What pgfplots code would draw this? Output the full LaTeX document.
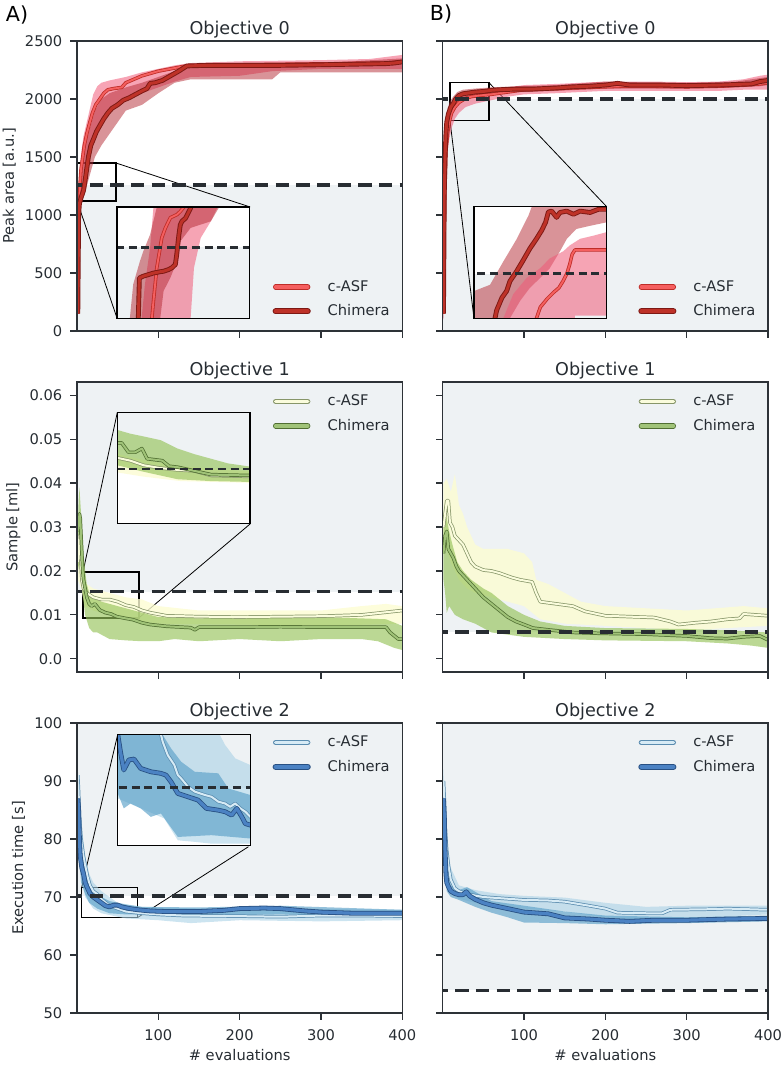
\documentclass[border=0pt]{standalone}
\usepackage{fontspec}
\setmainfont{DejaVu Sans}
\usepackage{pgfplots}
\usepackage{pgfplotstable}
\pgfplotsset{compat=1.18}

\definecolor{textc}{RGB}{38,44,50}
\definecolor{framec}{RGB}{45,50,55}
\definecolor{bgc}{RGB}{238,242,244}
\definecolor{dashc}{RGB}{40,45,50}
% red
\definecolor{rco}{RGB}{190,45,40}
\definecolor{rci}{RGB}{245,95,95}
\definecolor{rho}{RGB}{125,25,20}
\definecolor{rhi}{RGB}{190,50,40}
\definecolor{rcb}{RGB}{240,90,120}
\definecolor{rhb}{RGB}{180,40,50}
% green
\definecolor{gco}{RGB}{135,150,105}
\definecolor{gci}{RGB}{250,252,220}
\definecolor{gho}{RGB}{80,110,50}
\definecolor{ghi}{RGB}{160,195,120}
\definecolor{gcb}{RGB}{252,252,210}
\definecolor{ghb}{RGB}{150,195,90}
% blue
\definecolor{bco}{RGB}{90,140,175}
\definecolor{bci}{RGB}{215,235,245}
\definecolor{bho}{RGB}{40,80,130}
\definecolor{bhi}{RGB}{75,130,195}
\definecolor{bcb}{RGB}{170,210,230}
\definecolor{bhb}{RGB}{90,160,200}

\pgfplotsset{
  mainax/.style={
    scale only axis, width=244pt, height=217.5pt, axis on top,
    xmin=0, xmax=400, xtick={100,200,300,400},
    axis line style={framec, line width=0.9pt},
    tick align=outside, tick pos=left, major tick length=5pt,
    tick style={framec, line width=0.9pt},
    tick label style={font=\fontsize{11}{13}\selectfont, text=textc},
    xticklabel style={yshift=-4pt},
    yticklabel style={xshift=-2.5pt},
    label style={font=\fontsize{11}{13}\selectfont, text=textc},
    xlabel style={yshift=0.5pt},
    title style={font=\fontsize{13.2}{15}\selectfont, text=textc, yshift=-7.5pt},
    /pgf/number format/assume math mode=true,
    /pgf/number format/1000 sep={},
    legend style={draw=none, fill=none, font=\fontsize{11}{13}\selectfont, text=textc, row sep=4.5pt, inner sep=0pt},
    legend cell align=left,
  },
  inax/.style={scale only axis, width=99.5pt, height=83.7pt, xtick=\empty, ytick=\empty, axis on top,
    axis line style={black, line width=0.8pt}, axis background/.style={fill=white}},
  bgfill/.style={fill=bgc, draw=none, forget plot},
  zbox/.style={black, line width=1.1pt, forget plot},
  conn/.style={black, line width=0.6pt, forget plot},
  thr/.style={dashc, line width=2.6pt, dash pattern=on 10pt off 5.5pt, forget plot},
  thri/.style={dashc, line width=2.2pt, dash pattern=on 6pt off 3.5pt, forget plot},
  band/.style 2 args={fill=#1, fill opacity=#2, draw=none, forget plot},
  oln/.style 2 args={draw=#1, line width=#2, line join=round, forget plot},
  iln/.style 2 args={draw=#1, line width=#2, line join=round},
  lgd/.style n args={4}{legend image code/.code={
    \draw[line width=#3, line cap=round, #1] (1pt,0pt) -- (25pt,0pt);
    \draw[line width=#4, line cap=round, #2] (1pt,0pt) -- (25pt,0pt);
    \path[draw=none, fill=none] (0pt,-3pt) rectangle (38pt,3pt);}},
}

% ---------- Objective 0 ----------
\pgfplotstableread{
x y
1 150
2 950
3 1150
4 1300
5 1400
7 1500
9 1600
12 1700
15 1780
19 1880
23 1950
28 2000
33 2050
38 2080
45 2090
55 2100
60 2140
70 2170
80 2200
90 2220
100 2240
115 2260
130 2280
150 2290
200 2295
260 2300
330 2305
380 2310
395 2320
400 2320
}\tAzc
\pgfplotstableread{
x y
1 150
2 1000
3 1100
5 1150
8 1210
10 1300
12 1400
14 1500
17 1600
20 1650
24 1720
28 1770
33 1830
38 1880
43 1920
50 1950
57 1990
64 2010
72 2040
80 2070
86 2090
90 2135
96 2140
105 2160
115 2200
125 2240
135 2285
160 2290
250 2290
300 2295
340 2300
380 2305
390 2310
400 2320
}\tAzh
\pgfplotstableread{
x y
1 150
2 900
3 1300
4 1550
6 1700
8 1800
11 1880
15 1930
20 1970
28 2005
35 2020
45 2030
60 2040
80 2060
100 2080
140 2090
180 2100
220 2110
260 2110
300 2105
340 2110
370 2120
390 2130
400 2140
}\tBzc
\pgfplotstableread{
x y
1 150
2 1200
3 1500
4 1700
5 1800
7 1870
10 1930
13 1960
16 2000
20 2030
25 2045
30 2050
40 2060
50 2065
60 2075
70 2080
90 2085
110 2085
140 2095
160 2105
180 2110
200 2120
215 2135
230 2120
270 2120
300 2115
340 2120
360 2125
380 2130
390 2150
400 2160
}\tBzh
% insets objective 0
\pgfplotstableread{
x y
12.6 1080
12.6 1100
13.2 1140
14.4 1214
15.4 1251
16.2 1281
17.5 1303
19.3 1326
21.7 1333
22.9 1340
24.2 1350
25 1370
}\iAzc
\pgfplotstableread{
x y
7.7 1080
7.7 1100
8.1 1191
9.5 1195
13.2 1202
15.6 1205
16.8 1206
18.7 1210
19.9 1214
21.1 1221
21.6 1243
22.4 1288
22.9 1310
23.5 1318
24.8 1325
26.6 1347
27.2 1370
}\iAzh
\pgfplotstableread{
x y
30.6 1880
30.6 1900
32 1925
34.4 1943
36.8 1958
38.7 1968
40.2 1983
41.6 2000
42.6 2020
43.5 2043
44.5 2053
58 2053
}\iBzc
\pgfplotstableread{
x y
15.6 1880
15.6 1900
16.2 1918
18.1 1946
19.8 1961
21 1983
23.4 2005
25.8 2030
28.2 2056
30.6 2078
32.5 2097
33.9 2115
34.9 2138
36.1 2140
37.9 2126
39.1 2137
41.5 2140
44 2133
46.4 2140
50 2137
53 2144
58 2144
}\iBzh

% ---------- Objective 1 ----------
\pgfplotstableread{
x y
1 0.022
2 0.025
3 0.028
4 0.025
5 0.021
6 0.018
8 0.016
12 0.015
20 0.014
30 0.0135
40 0.0135
50 0.013
60 0.0122
70 0.0118
80 0.011
90 0.0105
110 0.0098
150 0.0096
200 0.0095
250 0.0096
300 0.0097
350 0.0100
370 0.0104
390 0.0108
400 0.0110
}\tAoc
\pgfplotstableread{
x y
1 0.029
2 0.031
3 0.033
4 0.032
5 0.028
6 0.024
7 0.020
8 0.018
10 0.016
12 0.014
15 0.0125
18 0.012
22 0.0125
28 0.0111
35 0.0105
42 0.0102
49 0.0096
60 0.0092
69 0.0089
80 0.0082
90 0.0078
110 0.0074
140 0.0071
145 0.0066
150 0.0072
200 0.0072
250 0.0073
300 0.0072
380 0.0072
385 0.0060
395 0.0045
400 0.0045
}\tAoh
\pgfplotstableread{
x y
1 0.030
3 0.033
5 0.036
7 0.036
9 0.031
12 0.030
15 0.028
20 0.027
25 0.026
30 0.024
35 0.022
40 0.021
50 0.0202
60 0.020
70 0.0195
85 0.0185
95 0.018
110 0.0175
115 0.015
120 0.013
140 0.0125
160 0.012
175 0.0108
200 0.0098
230 0.0096
260 0.0094
280 0.0085
290 0.0078
310 0.0082
330 0.0085
350 0.009
365 0.0092
370 0.0102
400 0.0098
}\tBoc
\pgfplotstableread{
x y
1 0.024
3 0.028
5 0.029
7 0.025
10 0.024
13 0.023
17 0.021
20 0.020
25 0.019
30 0.018
40 0.016
50 0.014
60 0.0125
70 0.011
80 0.0095
90 0.0085
100 0.0078
111 0.007
130 0.0066
160 0.006
193 0.0058
250 0.0056
300 0.0052
330 0.0047
350 0.0046
370 0.005
390 0.0052
400 0.0043
}\tBoh
\pgfplotstableread{
x y
5 0.0165
7 0.0165
13.7 0.0162
20.7 0.0157
29.5 0.0154
38.3 0.0152
47 0.0151
55.8 0.0146
76 0.0145
78 0.0145
}\iAoc
\pgfplotstableread{
x y
5 0.0181
9.3 0.0181
12.8 0.0171
16.3 0.0171
19.8 0.0175
22.5 0.0164
30.4 0.0162
33.9 0.0156
38.3 0.0155
47 0.0151
55.8 0.0147
76 0.0146
78 0.0146
}\iAoh

% ---------- Objective 2 ----------
\pgfplotstableread{
x y
1 91
2 88
3 84
5 80
8 77
10 75.5
13 73.5
16 72
20 71
25 70.5
30 69.6
40 68.5
50 68
60 67.5
80 67.2
100 67
130 66.8
200 66.7
250 66.6
300 66.8
350 66.8
400 66.7
}\tAtc
\pgfplotstableread{
x y
1 87
2 85
3 80
4 77
5 76
6 75
8 74
10 72.5
13 71.5
16 70.6
20 70
25 69.5
30 69
35 68.5
40 68.3
45 68.6
50 68.6
55 68.3
65 68
75 67.8
90 67.6
110 67.5
150 67.5
180 67.7
200 68
230 68.1
250 68
280 67.6
300 67.4
340 67.2
400 67.2
}\tAth
\pgfplotstableread{
x y
1 90
2 87
3 82
5 78
7 75.5
10 73
15 71.5
20 71
30 70.5
50 70
70 69.8
100 69.5
130 69.4
150 69.2
180 68.5
200 68
215 67.3
250 67.2
270 67.2
280 67.8
330 67.9
350 68
400 67.8
}\tBtc
\pgfplotstableread{
x y
1 87
2 84
3 78
4 74
5 72.5
7 71.8
10 71
15 70.6
20 70.4
25 70.4
29 70.9
33 70.2
40 69.6
50 69
60 68.6
70 68.3
80 68
90 67.7
100 67.4
110 67.3
130 67.1
150 66.4
180 66.2
200 66
230 65.8
260 66
300 66
350 66.2
400 66.3
}\tBth
\pgfplotstableread{
x y
27 73
28 72.6
28.9 72.27
31.5 71.67
34.9 71.22
36.7 70.77
38.4 70.62
41.9 70.25
45.4 70.03
50.6 69.88
54 69.8
57.5 69.58
61 69.5
63.6 69.35
66.2 69.5
68.8 69.28
71.4 69.13
74 68.9
76 68.8
}\iAtc
\pgfplotstableread{
x y
5 72.8
5.8 72.6
7.19 71.82
8.92 71.0
11.53 71.45
14.13 71.49
17.6 71.07
22.8 70.92
28 70.85
30.6 70.77
33.2 70.47
36.7 69.95
41.9 69.8
47.1 69.65
51.4 69.28
57.5 69.2
61 69.13
64.4 68.98
67 69.28
69.6 68.9
71.4 68.6
74 68.53
76 68.5
}\iAth

\begin{document}
\begin{tikzpicture}
\path[use as bounding box] (0pt,0pt) rectangle (588pt,-799.5pt);
\node[font=\fontsize{15.5}{17}\selectfont, text=black] at (12.75pt,-11.25pt) {A)};
\node[font=\fontsize{15.5}{17}\selectfont, text=black] at (330.75pt,-10.5pt) {B)};

% ===== A0 =====
\begin{axis}[mainax, at={(57.75pt,-30.75pt)}, anchor=north west,
  ymin=0, ymax=2500, ytick={0,500,...,2500}, xticklabels={},
  title={Objective 0}, ylabel={Peak area [a.u.]},
  legend style={at={(0.97,0.035)}, anchor=south east}]
\addplot[bgfill] coordinates {(-10,-100)(410,-100)(410,1260)(-10,1260)} -- cycle;
\addplot[zbox] coordinates {(0,1121)(48,1121)(48,1448)(0,1448)} -- cycle;
\addplot[conn] coordinates {(48,1448)(212.9,1069)};
\addplot[conn] coordinates {(0,1121)(49.2,112)};
\addplot[band={rcb}{0.55}] coordinates {(1,250)(2,1100)(4,1420)(6,1580)(8,1680)(12,1800)(16,1920)(20,2040)(25,2110)(30,2140)(40,2160)(60,2190)(80,2230)(100,2260)(120,2290)(140,2310)(200,2325)(300,2335)(360,2345)(400,2380)(400,2260)(300,2260)(240,2240)(200,2200)(140,2190)(120,2150)(100,2100)(80,2050)(60,2000)(40,1930)(30,1820)(25,1730)(20,1640)(16,1560)(12,1460)(8,1350)(6,1250)(4,1050)(2,750)(1,100)} -- cycle;
\addplot[band={rhb}{0.5}] coordinates {(1,250)(2,1150)(4,1350)(6,1500)(10,1600)(14,1700)(18,1800)(22,1900)(30,2000)(40,2050)(60,2100)(80,2140)(100,2190)(120,2240)(140,2290)(200,2300)(300,2310)(400,2350)(400,2230)(250,2230)(240,2170)(140,2170)(120,2140)(100,2050)(80,1950)(60,1900)(50,1800)(40,1700)(30,1600)(22,1500)(18,1400)(14,1300)(10,1200)(6,1100)(4,1050)(2,900)(1,100)} -- cycle;
\addplot[oln={rco}{2.6pt}] table {\tAzc};
\addplot[iln={rci}{1.4pt}, lgd={rco}{rci}{4pt}{2.6pt}] table {\tAzc};
\addlegendentry{c-ASF}
\addplot[oln={rho}{3.6pt}] table {\tAzh};
\addplot[iln={rhi}{2.2pt}, lgd={rho}{rhi}{4.6pt}{3pt}] table {\tAzh};
\addlegendentry{Chimera}
\addplot[thr] coordinates {(-10,1260)(410,1260)};
\end{axis}
\begin{axis}[inax, name=inA0, at={(87.75pt,-155.25pt)}, anchor=north west,
  xmin=0, xmax=48, ymin=1100, ymax=1350]
\addplot[bgfill] coordinates {(-5,1000)(60,1000)(60,1260)(-5,1260)} -- cycle;
\addplot[band={rcb}{0.55}] coordinates {(8.9,1080)(8.9,1100)(10.1,1176.7)(11.97,1258.5)(13.19,1350)(13.4,1370)(36.4,1370)(36.4,1350)(33.95,1318)(30.29,1280.8)(27.85,1213.8)(26.63,1100)(26.63,1080)} -- cycle;
\addplot[band={rhb}{0.5}] coordinates {(4.64,1080)(4.64,1100)(5.86,1176.7)(8.3,1228.7)(9.53,1251)(11.97,1288.2)(14.41,1350)(14.6,1370)(37.2,1370)(37,1350)(33.95,1318)(30.29,1310.6)(26.63,1303.1)(22.96,1273.4)(21.74,1228.7)(19.3,1191.5)(16.85,1161.8)(15.63,1100)(15.63,1080)} -- cycle;
\addplot[oln={rco}{2.6pt}] table {\iAzc};
\addplot[iln={rci}{1.4pt}] table {\iAzc};
\addplot[oln={rho}{3.6pt}] table {\iAzh};
\addplot[iln={rhi}{2.2pt}] table {\iAzh};
\addplot[thri] coordinates {(-5,1260)(60,1260)};
\end{axis}
\draw[black, line width=0.8pt] (inA0.south west) rectangle (inA0.north east);

% ===== B0 =====
\begin{axis}[mainax, at={(332pt,-30.75pt)}, anchor=north west,
  ymin=0, ymax=2500, ytick={0,500,...,2500}, xticklabels={}, yticklabels={},
  title={Objective 0},
  legend style={at={(0.97,0.035)}, anchor=south east}]
\addplot[bgfill] coordinates {(-10,-100)(410,-100)(410,2000)(-10,2000)} -- cycle;
\addplot[zbox] coordinates {(9,1813)(56.9,1813)(56.9,2141)(9,2141)} -- cycle;
\addplot[conn] coordinates {(56.9,2141)(201.6,1072)};
\addplot[conn] coordinates {(9,1813)(38.5,109)};
\addplot[band={rcb}{0.55}] coordinates {(1,250)(2,1200)(3,1550)(4,1750)(6,1850)(8,1920)(11,1970)(15,2010)(20,2040)(28,2060)(40,2080)(60,2090)(80,2100)(100,2120)(140,2130)(200,2150)(260,2150)(300,2145)(340,2150)(370,2170)(390,2200)(400,2210)(400,2080)(390,2080)(370,2080)(340,2070)(260,2070)(200,2070)(140,2050)(100,2040)(80,2020)(60,1990)(40,1960)(28,1930)(20,1880)(15,1830)(11,1750)(8,1650)(6,1550)(4,1300)(3,1000)(2,600)(1,100)} -- cycle;
\addplot[band={rhb}{0.5}] coordinates {(1,250)(2,1400)(3,1700)(4,1850)(6,1920)(9,1980)(13,2020)(18,2060)(25,2080)(40,2090)(60,2100)(90,2110)(140,2120)(200,2150)(230,2145)(300,2140)(360,2150)(390,2180)(400,2190)(400,2120)(390,2110)(360,2100)(300,2090)(230,2090)(200,2090)(140,2070)(90,2060)(60,2050)(40,2030)(25,2000)(18,1950)(13,1900)(9,1850)(6,1750)(4,1500)(3,1300)(2,1000)(1,100)} -- cycle;
\addplot[oln={rco}{2.6pt}] table {\tBzc};
\addplot[iln={rci}{1.4pt}, lgd={rco}{rci}{4pt}{2.6pt}] table {\tBzc};
\addlegendentry{c-ASF}
\addplot[oln={rho}{3.6pt}] table {\tBzh};
\addplot[iln={rhi}{2.2pt}, lgd={rho}{rhi}{4.6pt}{3pt}] table {\tBzh};
\addlegendentry{Chimera}
\addplot[thr] coordinates {(-10,2000)(410,2000)};
\end{axis}
\begin{axis}[inax, name=inB0, at={(355.5pt,-155pt)}, anchor=north west,
  xmin=8, xmax=56, ymin=1900, ymax=2150]
\addplot[bgfill] coordinates {(0,1800)(60,1800)(60,2000)(0,2000)} -- cycle;
\addplot[band={rhb}{0.5}] coordinates {(6,1961)(8,1961)(13.8,1975)(18.6,2027)(23.4,2077)(27.7,2130)(28.9,2150)(30,2200)(58,2200)(58,2115)(56,2115)(49.9,2107)(45,2100)(41.6,2078)(39.1,2050)(35.4,2012)(31.9,1990)(28.2,1968)(24.7,1939)(21,1900)(19,1850)(6,1850)} -- cycle;
\addplot[band={rcb}{0.55}] coordinates {(6,1850)(18,1850)(18.6,1900)(22.2,1954)(27,1990)(31.9,2012)(35.4,2034)(40.3,2050)(42.6,2063)(46.4,2078)(51.2,2085)(56,2093)(58,2093)(58,1906)(44.5,1906)(44,1850)} -- cycle;
\addplot[oln={rco}{2.6pt}] table {\iBzc};
\addplot[iln={rci}{1.4pt}] table {\iBzc};
\addplot[oln={rho}{3.6pt}] table {\iBzh};
\addplot[iln={rhi}{2.2pt}] table {\iBzh};
\addplot[thri] coordinates {(0,2000)(60,2000)};
\end{axis}
\draw[black, line width=0.8pt] (inB0.south west) rectangle (inB0.north east);

% ===== A1 =====
\begin{axis}[mainax, at={(57.75pt,-286.5pt)}, anchor=north west,
  ymin=-0.003, ymax=0.063, ytick={0,0.01,...,0.06}, scaled y ticks=false,
  yticklabels={0.0,0.01,0.02,0.03,0.04,0.05,0.06}, xticklabels={},
  title={Objective 1}, ylabel={Sample [ml]},
  legend style={at={(0.97,0.965)}, anchor=north east}]
\addplot[bgfill] coordinates {(-10,0.0153)(410,0.0153)(410,0.07)(-10,0.07)} -- cycle;
\addplot[zbox] coordinates {(7.4,0.0093)(76,0.0093)(76,0.0198)(7.4,0.0198)} -- cycle;
\addplot[conn] coordinates {(7.4,0.0198)(49.6,0.0561)};
\addplot[conn] coordinates {(76,0.0093)(212.9,0.0307)};
\addplot[band={gcb}{0.8}] coordinates {(1,0.025)(3,0.030)(5,0.025)(8,0.020)(12,0.017)(20,0.016)(40,0.015)(60,0.014)(80,0.0135)(100,0.012)(150,0.011)(200,0.011)(300,0.011)(350,0.012)(380,0.0125)(400,0.012)(400,0.008)(300,0.0075)(200,0.0078)(100,0.008)(60,0.009)(40,0.010)(20,0.011)(10,0.012)(5,0.016)(1,0.018)} -- cycle;
\addplot[band={ghb}{0.65}] coordinates {(1,0.030)(2,0.036)(3,0.039)(4,0.036)(6,0.030)(8,0.024)(10,0.020)(12,0.017)(15,0.015)(20,0.014)(30,0.013)(50,0.012)(80,0.0105)(100,0.0095)(150,0.0092)(200,0.0095)(250,0.0095)(300,0.0095)(350,0.0092)(380,0.009)(400,0.0075)(400,0.002)(390,0.0025)(370,0.004)(350,0.0045)(300,0.0045)(250,0.004)(200,0.0045)(150,0.004)(120,0.0045)(100,0.004)(80,0.004)(60,0.0042)(40,0.0045)(30,0.0055)(25,0.006)(20,0.006)(15,0.007)(10,0.010)(8,0.013)(5,0.018)(3,0.022)(1,0.020)} -- cycle;
\addplot[oln={gco}{2.6pt}] table {\tAoc};
\addplot[iln={gci}{1.5pt}, lgd={gco}{gci}{4pt}{2.8pt}] table {\tAoc};
\addlegendentry{c-ASF}
\addplot[oln={gho}{2.6pt}] table {\tAoh};
\addplot[iln={ghi}{1.5pt}, lgd={gho}{ghi}{4pt}{2.8pt}] table {\tAoh};
\addlegendentry{Chimera}
\addplot[thr] coordinates {(-10,0.0153)(410,0.0153)};
\end{axis}
\begin{axis}[inax, name=inA1, at={(88pt,-309.2pt)}, anchor=north west,
  xmin=7, xmax=76, ymin=0.0094, ymax=0.0214, scaled y ticks=false]
\addplot[bgfill] coordinates {(0,0.0153)(80,0.0153)(80,0.025)(0,0.025)} -- cycle;
\addplot[band={gcb}{0.8}] coordinates {(5,0.0170)(20,0.0163)(40,0.0156)(78,0.0150)(78,0.0138)(40,0.0140)(20,0.0145)(5,0.0150)} -- cycle;
\addplot[band={ghb}{0.65}] coordinates {(5,0.0195)(7,0.0195)(13.7,0.0191)(20.7,0.0188)(29.5,0.0184)(38.3,0.0175)(47,0.0169)(55.8,0.0164)(64.6,0.0159)(78,0.0155)(78,0.0139)(55.8,0.0140)(38.3,0.0142)(20.7,0.0150)(7,0.0157)(5,0.0157)} -- cycle;
\addplot[oln={gco}{2.6pt}] table {\iAoc};
\addplot[iln={gci}{1.5pt}] table {\iAoc};
\addplot[oln={gho}{2.6pt}] table {\iAoh};
\addplot[iln={ghi}{1.5pt}] table {\iAoh};
\addplot[thri] coordinates {(0,0.0153)(80,0.0153)};
\end{axis}
\draw[black, line width=0.8pt] (inA1.south west) rectangle (inA1.north east);

% ===== B1 =====
\begin{axis}[mainax, at={(332pt,-286.5pt)}, anchor=north west,
  ymin=-0.003, ymax=0.063, ytick={0,0.01,...,0.06}, scaled y ticks=false,
  yticklabels={}, xticklabels={},
  title={Objective 1},
  legend style={at={(0.97,0.965)}, anchor=north east}]
\addplot[bgfill] coordinates {(-10,0.0061)(410,0.0061)(410,0.07)(-10,0.07)} -- cycle;
\addplot[band={gcb}{0.8}] coordinates {(1,0.040)(5,0.041)(10,0.038)(15,0.042)(20,0.035)(25,0.033)(30,0.030)(40,0.026)(50,0.025)(80,0.025)(100,0.024)(110,0.022)(115,0.018)(130,0.017)(150,0.015)(170,0.013)(200,0.012)(300,0.011)(370,0.012)(400,0.0115)(400,0.0075)(300,0.0065)(250,0.007)(200,0.0075)(150,0.008)(120,0.009)(100,0.012)(80,0.013)(60,0.014)(40,0.015)(30,0.016)(20,0.018)(10,0.022)(5,0.025)(1,0.024)} -- cycle;
\addplot[band={ghb}{0.65}] coordinates {(1,0.031)(3,0.034)(5,0.032)(8,0.029)(12,0.026)(18,0.022)(25,0.020)(35,0.018)(50,0.016)(60,0.015)(80,0.012)(100,0.010)(120,0.0085)(150,0.0075)(200,0.007)(300,0.0068)(350,0.0065)(400,0.006)(400,0.0025)(380,0.003)(350,0.0035)(300,0.004)(200,0.0042)(150,0.0045)(100,0.005)(80,0.0055)(60,0.006)(40,0.008)(25,0.009)(15,0.010)(8,0.012)(5,0.0105)(3,0.015)(1,0.018)} -- cycle;
\addplot[oln={gco}{2.6pt}] table {\tBoc};
\addplot[iln={gci}{1.5pt}, lgd={gco}{gci}{4pt}{2.8pt}] table {\tBoc};
\addlegendentry{c-ASF}
\addplot[oln={gho}{2.6pt}] table {\tBoh};
\addplot[iln={ghi}{1.5pt}, lgd={gho}{ghi}{4pt}{2.8pt}] table {\tBoh};
\addlegendentry{Chimera}
\addplot[thr] coordinates {(-10,0.0061)(410,0.0061)};
\end{axis}

% ===== A2 =====
\begin{axis}[mainax, at={(57.75pt,-542.25pt)}, anchor=north west,
  ymin=50, ymax=100, ytick={50,60,...,100},
  title={Objective 2}, ylabel={Execution time [s]}, xlabel={\# evaluations},
  legend style={at={(0.97,0.965)}, anchor=north east}]
\addplot[bgfill] coordinates {(-10,70.2)(410,70.2)(410,110)(-10,110)} -- cycle;
\addplot[zbox] coordinates {(5.8,66.43)(74.2,66.43)(74.2,71.67)(5.8,71.67)} -- cycle;
\addplot[conn] coordinates {(5.8,71.67)(50.1,98.05)};
\addplot[conn] coordinates {(74.2,66.43)(210.8,78.67)};
\addplot[band={bcb}{0.6}] coordinates {(1,92)(3,88)(6,82)(10,77)(15,74)(20,72.5)(30,71)(50,69)(80,68.3)(150,68)(250,68)(400,67.8)(400,66)(300,65.8)(200,66)(140,65.5)(100,66)(60,66.3)(30,67.2)(20,68)(10,70)(5,74)(1,77)} -- cycle;
\addplot[band={bhb}{0.65}] coordinates {(1,88)(3,84)(6,78)(10,74)(15,72)(20,71)(30,70)(40,69.3)(60,68.7)(80,68.3)(150,68.2)(250,68.5)(400,67.8)(400,66.6)(250,67)(150,66.8)(100,66.7)(80,67)(60,67)(40,67.2)(25,68)(15,69)(10,70.5)(5,72.5)(1,80)} -- cycle;
\addplot[oln={bco}{2.6pt}] table {\tAtc};
\addplot[iln={bci}{1.5pt}, lgd={bco}{bci}{4pt}{2.8pt}] table {\tAtc};
\addlegendentry{c-ASF}
\addplot[oln={bho}{3.6pt}] table {\tAth};
\addplot[iln={bhi}{2.4pt}, lgd={bho}{bhi}{4.6pt}{3pt}] table {\tAth};
\addlegendentry{Chimera}
\addplot[thr] coordinates {(-10,70.2)(410,70.2)};
\end{axis}
\begin{axis}[inax, name=inA2, at={(88.3pt,-550.7pt)}, anchor=north west,
  xmin=5.8, xmax=74, ymin=67.6, ymax=72.6]
\addplot[bgfill] coordinates {(0,70.2)(80,70.2)(80,75)(0,75)} -- cycle;
\addplot[band={bcb}{0.6}] coordinates {(5.8,72.7)(57.5,72.7)(61,72.12)(66.2,71.52)(74,71.22)(74,67.7)(54,67.7)(45.4,67.78)(36.7,67.85)(29.7,68.83)(5.8,69.73)} -- cycle;
\addplot[band={bhb}{0.65}] coordinates {(5.8,72.7)(28,72.7)(33.2,71.97)(38.4,71.37)(45.4,70.92)(57.5,70.85)(62.7,70.17)(74,69.88)(74,67.93)(54,68.08)(36.7,68.0)(32.3,68.53)(28,69.05)(22.8,68.9)(17.6,69.28)(12.4,69.5)(8.92,69.28)(5.8,69.95)} -- cycle;
\addplot[oln={bco}{2.6pt}] table {\iAtc};
\addplot[iln={bci}{1.5pt}] table {\iAtc};
\addplot[oln={bho}{3.6pt}] table {\iAth};
\addplot[iln={bhi}{2.4pt}] table {\iAth};
\addplot[thri] coordinates {(0,70.2)(80,70.2)};
\end{axis}
\draw[black, line width=0.8pt] (inA2.south west) rectangle (inA2.north east);

% ===== B2 =====
\begin{axis}[mainax, at={(332pt,-542.25pt)}, anchor=north west,
  ymin=50, ymax=100, ytick={50,60,...,100}, yticklabels={},
  title={Objective 2}, xlabel={\# evaluations},
  legend style={at={(0.97,0.965)}, anchor=north east}]
\addplot[bgfill] coordinates {(-10,53.9)(410,53.9)(410,110)(-10,110)} -- cycle;
\addplot[band={bcb}{0.6}] coordinates {(1,92)(3,85)(6,79)(10,75)(20,72)(40,71.2)(70,70.5)(100,70.2)(150,69.9)(200,69)(250,68.3)(300,68.5)(400,68.5)(400,67)(300,66.3)(250,66)(200,66.5)(150,67.5)(100,68)(70,68.5)(40,69)(20,69.7)(10,70.7)(5,72)(1,80)} -- cycle;
\addplot[band={bhb}{0.65}] coordinates {(1,88)(3,80)(6,74)(10,72)(20,71.2)(30,71.7)(45,70.5)(60,69.3)(100,68.5)(150,67.5)(200,66.8)(300,66.5)(400,66.8)(400,65.8)(300,65.5)(200,65.3)(150,65.5)(100,65.6)(80,66.5)(60,67.3)(40,68.3)(20,69.5)(10,70)(5,71)(1,82)} -- cycle;
\addplot[oln={bco}{2.6pt}] table {\tBtc};
\addplot[iln={bci}{1.5pt}, lgd={bco}{bci}{4pt}{2.8pt}] table {\tBtc};
\addlegendentry{c-ASF}
\addplot[oln={bho}{3.6pt}] table {\tBth};
\addplot[iln={bhi}{2.4pt}, lgd={bho}{bhi}{4.6pt}{3pt}] table {\tBth};
\addlegendentry{Chimera}
\addplot[thr] coordinates {(-10,53.9)(410,53.9)};
\end{axis}
\end{tikzpicture}
\end{document}
